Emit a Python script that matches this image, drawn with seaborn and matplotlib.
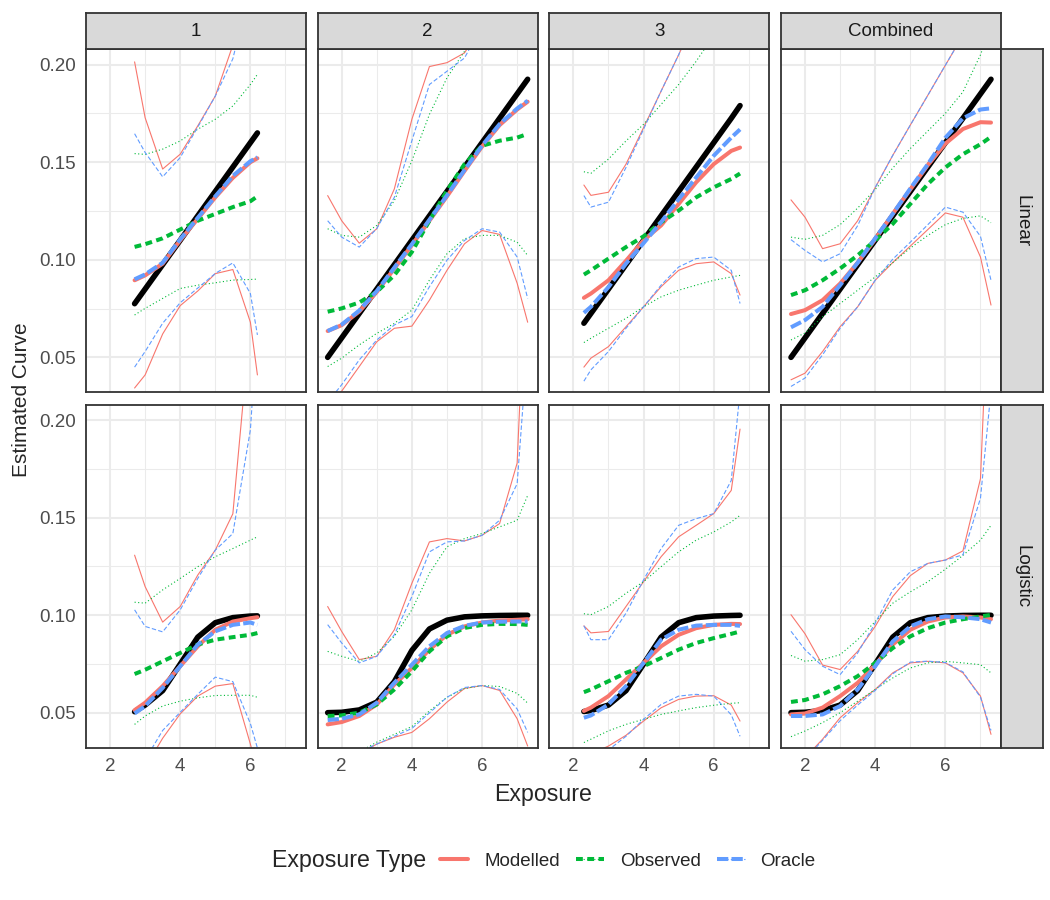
import pandas as pd
import seaborn as sns
import matplotlib.pyplot as plt
from matplotlib.lines import Line2D
from matplotlib.ticker import MultipleLocator, FormatStrFormatter

# --- DATA ---
TYPES = ["Modelled", "Observed", "Oracle"]
GROUPS = ["1", "2", "3", "Combined"]
MODELS = ["Linear", "Logistic"]

x_1 = [2.7, 3.0, 3.5, 4.0, 4.5, 5.0, 5.5, 6.0, 6.2]
x_2 = [1.6, 2.0, 2.5, 3.0, 3.5, 4.0, 4.5, 5.0, 5.5, 6.0, 6.5, 7.0, 7.3]
x_3 = [2.3, 2.5, 3.0, 3.5, 4.0, 4.5, 5.0, 5.5, 6.0, 6.5, 6.75]
x_c = [1.6, 2.0, 2.5, 3.0, 3.5, 4.0, 4.5, 5.0, 5.5, 6.0, 6.5, 7.0, 7.3]

# Linear, group 1
lin1_truth = [0.0775, 0.085, 0.0975, 0.11, 0.1225, 0.135, 0.1475, 0.16, 0.165]
lin1_mod = [0.0895, 0.092, 0.098, 0.110, 0.121, 0.132, 0.142, 0.150, 0.152]
lin1_obs = [0.1066, 0.108, 0.111, 0.1155, 0.120, 0.1235, 0.127, 0.130, 0.1325]
lin1_ora = [0.090, 0.0925, 0.0985, 0.1105, 0.1215, 0.1325, 0.143, 0.1505, 0.1525]
lin1_mod_lo = [0.0343, 0.041, 0.062, 0.0765, 0.084, 0.0929, 0.095, 0.068, 0.041]
lin1_obs_lo = [0.0717, 0.0751, 0.0802, 0.0853, 0.087, 0.0882, 0.0896, 0.0899, 0.0901]
lin1_ora_lo = [0.045, 0.053, 0.0675, 0.078, 0.0855, 0.093, 0.0984, 0.0827, 0.0615]
lin1_mod_hi = [0.2014, 0.1728, 0.1465, 0.1541, 0.1686, 0.1839, 0.210, 0.26, 0.28]
lin1_obs_hi = [0.1544, 0.154, 0.1567, 0.1609, 0.1669, 0.172, 0.1788, 0.1898, 0.195]
lin1_ora_hi = [0.1646, 0.155, 0.1425, 0.1524, 0.168, 0.1839, 0.203, 0.24, 0.25]

# Linear, group 2
lin2_truth = [0.05, 0.06, 0.0725, 0.085, 0.0975, 0.11, 0.1225, 0.135, 0.1475, 0.16, 0.1725, 0.185, 0.1925]
lin2_mod = [0.0635, 0.0665, 0.0735, 0.0835, 0.0955, 0.1075, 0.120, 0.1325, 0.1455, 0.158, 0.169, 0.177, 0.181]
lin2_obs = [0.0734, 0.0751, 0.0781, 0.0836, 0.0921, 0.104, 0.120, 0.1354, 0.149, 0.1584, 0.161, 0.1626, 0.1645]
lin2_ora = [0.0635, 0.0668, 0.074, 0.084, 0.096, 0.108, 0.1205, 0.133, 0.146, 0.1585, 0.1695, 0.1775, 0.1815]
lin2_mod_lo = [0.025, 0.0327, 0.0453, 0.058, 0.0649, 0.066, 0.0793, 0.0946, 0.1082, 0.115, 0.113, 0.088, 0.068]
lin2_obs_lo = [0.0453, 0.0496, 0.0564, 0.0623, 0.0674, 0.0742, 0.0896, 0.1031, 0.1108, 0.1125, 0.1125, 0.109, 0.1022]
lin2_ora_lo = [0.027, 0.036, 0.0487, 0.0589, 0.0666, 0.0709, 0.0862, 0.0998, 0.1099, 0.1159, 0.1142, 0.1014, 0.0802]
lin2_mod_hi = [0.1329, 0.120, 0.1085, 0.1159, 0.1363, 0.172, 0.199, 0.201, 0.206, 0.22, 0.24, 0.27, 0.30]
lin2_obs_hi = [0.1159, 0.1125, 0.1116, 0.1176, 0.1303, 0.1507, 0.1745, 0.1932, 0.2068, 0.225, 0.245, 0.27, 0.29]
lin2_ora_hi = [0.120, 0.1116, 0.1065, 0.116, 0.132, 0.161, 0.1898, 0.1966, 0.2034, 0.22, 0.24, 0.27, 0.29]

# Linear, group 3
lin3_truth = [0.0675, 0.0725, 0.085, 0.0975, 0.11, 0.1225, 0.135, 0.1475, 0.16, 0.1725, 0.179]
lin3_mod = [0.0805, 0.0827, 0.0895, 0.0995, 0.110, 0.1176, 0.1286, 0.1397, 0.149, 0.1558, 0.1575]
lin3_obs = [0.0924, 0.0946, 0.1006, 0.1065, 0.112, 0.1192, 0.1252, 0.132, 0.1371, 0.1414, 0.1442]
lin3_ora = [0.0728, 0.0759, 0.086, 0.098, 0.1085, 0.1193, 0.131, 0.1422, 0.1533, 0.1626, 0.1668]
lin3_mod_lo = [0.045, 0.0496, 0.0555, 0.0657, 0.0759, 0.0862, 0.0946, 0.098, 0.0989, 0.0929, 0.0819]
lin3_obs_lo = [0.0576, 0.0598, 0.0649, 0.070, 0.0759, 0.081, 0.0844, 0.087, 0.0895, 0.0912, 0.092]
lin3_ora_lo = [0.0378, 0.0436, 0.053, 0.0649, 0.0759, 0.087, 0.0963, 0.1006, 0.1014, 0.0946, 0.0776]
lin3_mod_hi = [0.1383, 0.133, 0.1346, 0.149, 0.1677, 0.1864, 0.205, 0.225, 0.245, 0.265, 0.275]
lin3_obs_hi = [0.1451, 0.1443, 0.1516, 0.1609, 0.1694, 0.1796, 0.1898, 0.2017, 0.215, 0.23, 0.24]
lin3_ora_hi = [0.1329, 0.127, 0.1295, 0.1473, 0.1669, 0.1864, 0.205, 0.225, 0.245, 0.265, 0.275]

# Linear, combined
linc_truth = [0.05, 0.06, 0.0725, 0.085, 0.0975, 0.11, 0.1225, 0.135, 0.1475, 0.16, 0.1725, 0.185, 0.1925]
linc_mod = [0.0722, 0.0742, 0.0793, 0.0878, 0.0985, 0.1105, 0.1235, 0.136, 0.1485, 0.1595, 0.167, 0.1705, 0.1703]
linc_obs = [0.0819, 0.0844, 0.0895, 0.0955, 0.1023, 0.1099, 0.1184, 0.1286, 0.1388, 0.1473, 0.1541, 0.1592, 0.163]
linc_ora = [0.0654, 0.0691, 0.0759, 0.087, 0.0985, 0.111, 0.1235, 0.1365, 0.149, 0.1625, 0.1725, 0.177, 0.1776]
linc_mod_lo = [0.0385, 0.0419, 0.053, 0.0657, 0.0759, 0.0895, 0.0986, 0.107, 0.1155, 0.124, 0.1218, 0.1014, 0.0768]
linc_obs_lo = [0.0589, 0.0625, 0.0708, 0.0776, 0.0844, 0.0912, 0.0985, 0.106, 0.1125, 0.118, 0.1212, 0.1225, 0.119]
linc_ora_lo = [0.0351, 0.0394, 0.0513, 0.0649, 0.0759, 0.0895, 0.1003, 0.109, 0.118, 0.127, 0.1244, 0.112, 0.0895]
linc_mod_hi = [0.1307, 0.1218, 0.1057, 0.1082, 0.120, 0.137, 0.1535, 0.169, 0.1843, 0.1997, 0.215, 0.23, 0.245]
linc_obs_hi = [0.1116, 0.1105, 0.1125, 0.118, 0.1265, 0.136, 0.147, 0.157, 0.166, 0.175, 0.186, 0.205, 0.22]
linc_ora_hi = [0.1103, 0.1048, 0.0989, 0.1031, 0.1175, 0.137, 0.1535, 0.169, 0.1843, 0.1997, 0.215, 0.23, 0.245]

# Logistic, group 1
log1_truth = [0.0506, 0.054, 0.0614, 0.075, 0.0888, 0.0962, 0.0988, 0.0996, 0.0997]
log1_mod = [0.0514, 0.0552, 0.0637, 0.0739, 0.0841, 0.0926, 0.0968, 0.0985, 0.099]
log1_obs = [0.0699, 0.0721, 0.0764, 0.0807, 0.085, 0.0875, 0.0888, 0.090, 0.0909]
log1_ora = [0.0497, 0.0535, 0.0628, 0.0739, 0.085, 0.0918, 0.0951, 0.0963, 0.0951]
log1_mod_lo = [0.015, 0.022, 0.037, 0.0495, 0.0586, 0.0637, 0.065, 0.034, 0.02]
log1_obs_lo = [0.0441, 0.0484, 0.0535, 0.056, 0.0577, 0.0589, 0.059, 0.059, 0.058]
log1_ora_lo = [0.017, 0.026, 0.041, 0.0503, 0.0595, 0.0683, 0.066, 0.0445, 0.032]
log1_mod_hi = [0.1308, 0.1147, 0.0965, 0.1045, 0.1206, 0.1334, 0.152, 0.25, 0.30]
log1_obs_hi = [0.1067, 0.1062, 0.113, 0.1189, 0.1249, 0.130, 0.1342, 0.1385, 0.1402]
log1_ora_hi = [0.1028, 0.0943, 0.0915, 0.1028, 0.1189, 0.1334, 0.1419, 0.195, 0.25]

# Logistic, group 2
log2_truth = [0.0501, 0.0503, 0.0515, 0.0555, 0.066, 0.082, 0.093, 0.0975, 0.0992, 0.0997, 0.0999, 0.1, 0.1]
log2_mod = [0.0441, 0.0453, 0.0484, 0.0543, 0.0645, 0.073, 0.0824, 0.090, 0.0943, 0.0963, 0.0973, 0.0977, 0.098]
log2_obs = [0.0484, 0.0487, 0.0501, 0.0543, 0.062, 0.0713, 0.0815, 0.0892, 0.0935, 0.0951, 0.0956, 0.0955, 0.0951]
log2_ora = [0.0463, 0.047, 0.0492, 0.0552, 0.0654, 0.0747, 0.0841, 0.0909, 0.0946, 0.0963, 0.0967, 0.0968, 0.0968]
log2_mod_lo = [0.022, 0.025, 0.029, 0.034, 0.0375, 0.040, 0.047, 0.0555, 0.0625, 0.064, 0.0615, 0.047, 0.033]
log2_obs_lo = [0.024, 0.026, 0.030, 0.035, 0.039, 0.043, 0.051, 0.058, 0.0625, 0.064, 0.0635, 0.060, 0.055]
log2_ora_lo = [0.022, 0.026, 0.030, 0.034, 0.038, 0.042, 0.050, 0.058, 0.063, 0.064, 0.062, 0.052, 0.040]
log2_mod_hi = [0.1045, 0.0917, 0.0773, 0.079, 0.0926, 0.1164, 0.1376, 0.1393, 0.1381, 0.141, 0.147, 0.178, 0.30]
log2_obs_hi = [0.0815, 0.079, 0.0764, 0.0807, 0.0892, 0.1028, 0.1215, 0.1351, 0.1393, 0.1419, 0.1453, 0.1487, 0.1614]
log2_ora_hi = [0.0952, 0.0858, 0.0756, 0.079, 0.090, 0.1096, 0.1325, 0.1376, 0.1381, 0.141, 0.1487, 0.1674, 0.24]

# Logistic, group 3
log3_truth = [0.0507, 0.0512, 0.054, 0.0614, 0.075, 0.0888, 0.0962, 0.0988, 0.0996, 0.0999, 0.1]
log3_mod = [0.051, 0.0527, 0.0586, 0.0671, 0.0756, 0.0841, 0.090, 0.0934, 0.0951, 0.0956, 0.0955]
log3_obs = [0.0606, 0.062, 0.0662, 0.0705, 0.0739, 0.0781, 0.0824, 0.0858, 0.0883, 0.0905, 0.0917]
log3_ora = [0.0475, 0.0487, 0.0543, 0.0637, 0.0756, 0.0875, 0.0926, 0.0947, 0.0951, 0.0951, 0.0946]
log3_mod_lo = [0.027, 0.029, 0.033, 0.0385, 0.0458, 0.0526, 0.0569, 0.0586, 0.0588, 0.054, 0.0458]
log3_obs_lo = [0.0348, 0.0365, 0.0408, 0.0441, 0.0467, 0.0492, 0.051, 0.0527, 0.0539, 0.0549, 0.0552]
log3_ora_lo = [0.024, 0.026, 0.031, 0.038, 0.0467, 0.0543, 0.0586, 0.0595, 0.0586, 0.049, 0.038]
log3_mod_hi = [0.0946, 0.091, 0.0917, 0.1045, 0.1172, 0.130, 0.1402, 0.1461, 0.1521, 0.164, 0.1954]
log3_obs_hi = [0.1008, 0.1003, 0.1045, 0.1113, 0.1172, 0.1249, 0.1325, 0.1385, 0.1427, 0.1478, 0.1512]
log3_ora_hi = [0.0946, 0.0875, 0.0875, 0.1011, 0.1181, 0.1342, 0.1461, 0.1495, 0.1521, 0.1691, 0.215]

# Logistic, combined
logc_truth = [0.0501, 0.0503, 0.0512, 0.054, 0.0614, 0.075, 0.0888, 0.0962, 0.0988, 0.0996, 0.0999, 0.1, 0.1]
logc_mod = [0.0492, 0.0497, 0.0527, 0.0586, 0.0654, 0.0747, 0.085, 0.0926, 0.0968, 0.0989, 0.0994, 0.0989, 0.098]
logc_obs = [0.0556, 0.0566, 0.0595, 0.0637, 0.0688, 0.0756, 0.0832, 0.0892, 0.0934, 0.0963, 0.098, 0.0994, 0.1002]
logc_ora = [0.0484, 0.0484, 0.0492, 0.0535, 0.062, 0.0739, 0.0866, 0.0943, 0.098, 0.0994, 0.099, 0.098, 0.0963]
logc_mod_lo = [0.022, 0.027, 0.0365, 0.0475, 0.0552, 0.062, 0.0705, 0.0756, 0.0764, 0.0756, 0.0705, 0.0586, 0.039]
logc_obs_lo = [0.0378, 0.0407, 0.045, 0.0501, 0.056, 0.062, 0.0679, 0.073, 0.0756, 0.0764, 0.0756, 0.0747, 0.0705]
logc_ora_lo = [0.021, 0.026, 0.036, 0.046, 0.054, 0.0615, 0.070, 0.076, 0.0765, 0.0758, 0.071, 0.058, 0.041]
logc_mod_hi = [0.1003, 0.0905, 0.0745, 0.0722, 0.0815, 0.0943, 0.1096, 0.1203, 0.1266, 0.1283, 0.133, 0.17, 0.30]
logc_obs_hi = [0.0794, 0.0765, 0.0773, 0.0798, 0.0875, 0.0968, 0.1062, 0.112, 0.1172, 0.1236, 0.1307, 0.1385, 0.1461]
logc_ora_hi = [0.0918, 0.0824, 0.0739, 0.0696, 0.0807, 0.096, 0.113, 0.1223, 0.1266, 0.1283, 0.131, 0.160, 0.215]

PANELS = [
    ("Linear", "1", x_1, lin1_truth, (lin1_mod, lin1_obs, lin1_ora),
     (lin1_mod_lo, lin1_obs_lo, lin1_ora_lo), (lin1_mod_hi, lin1_obs_hi, lin1_ora_hi)),
    ("Linear", "2", x_2, lin2_truth, (lin2_mod, lin2_obs, lin2_ora),
     (lin2_mod_lo, lin2_obs_lo, lin2_ora_lo), (lin2_mod_hi, lin2_obs_hi, lin2_ora_hi)),
    ("Linear", "3", x_3, lin3_truth, (lin3_mod, lin3_obs, lin3_ora),
     (lin3_mod_lo, lin3_obs_lo, lin3_ora_lo), (lin3_mod_hi, lin3_obs_hi, lin3_ora_hi)),
    ("Linear", "Combined", x_c, linc_truth, (linc_mod, linc_obs, linc_ora),
     (linc_mod_lo, linc_obs_lo, linc_ora_lo), (linc_mod_hi, linc_obs_hi, linc_ora_hi)),
    ("Logistic", "1", x_1, log1_truth, (log1_mod, log1_obs, log1_ora),
     (log1_mod_lo, log1_obs_lo, log1_ora_lo), (log1_mod_hi, log1_obs_hi, log1_ora_hi)),
    ("Logistic", "2", x_2, log2_truth, (log2_mod, log2_obs, log2_ora),
     (log2_mod_lo, log2_obs_lo, log2_ora_lo), (log2_mod_hi, log2_obs_hi, log2_ora_hi)),
    ("Logistic", "3", x_3, log3_truth, (log3_mod, log3_obs, log3_ora),
     (log3_mod_lo, log3_obs_lo, log3_ora_lo), (log3_mod_hi, log3_obs_hi, log3_ora_hi)),
    ("Logistic", "Combined", x_c, logc_truth, (logc_mod, logc_obs, logc_ora),
     (logc_mod_lo, logc_obs_lo, logc_ora_lo), (logc_mod_hi, logc_obs_hi, logc_ora_hi)),
]

# --- STYLE ---
COLOURS = {"Modelled": "#F8766D", "Observed": "#00BA38", "Oracle": "#619CFF"}
DASH_EST = {"Modelled": "", "Observed": (1.7, 1.1), "Oracle": (2.8, 0.8)}
DASH_CI = {"Modelled": "", "Observed": (1, 2.2), "Oracle": (4, 2)}
LW_EST, LW_CI, LW_TRUTH = 2.9, 0.8, 4.0
BORDER = "#333333"
GRID = "#EBEBEB"
FS_SMALL, FS_TITLE = 13.5, 16.7


def build_frames():
    truth_rows, curve_rows = [], []
    for model, group, x, truth, est, lo, hi in PANELS:
        for xi, yi in zip(x, truth):
            truth_rows.append((model, group, xi, yi))
        for part, series in (("est", est), ("lo", lo), ("hi", hi)):
            for t, ys in zip(TYPES, series):
                for xi, yi in zip(x, ys):
                    curve_rows.append((model, group, t, part, xi, yi))
    truth_df = pd.DataFrame(truth_rows, columns=["model", "group", "x", "y"])
    curve_df = pd.DataFrame(curve_rows, columns=["model", "group", "type", "part", "x", "y"])
    return truth_df, curve_df


def add_strip(fig, rect, label, rotation=0):
    sax = fig.add_axes(rect)
    sax.set_facecolor("#D9D9D9")
    sax.set_xticks([])
    sax.set_yticks([])
    for sp in sax.spines.values():
        sp.set_color(BORDER)
        sp.set_linewidth(1.3)
    sax.text(0.5, 0.5, label, ha="center", va="center", rotation=rotation,
             fontsize=FS_SMALL, color="#1A1A1A")


def main():
    truth_df, curve_df = build_frames()

    sns.set_theme(style="white")
    plt.rcParams["font.family"] = ["Liberation Sans", "DejaVu Sans"]

    fig, axes = plt.subplots(2, 4, figsize=(10.5, 9), dpi=100, sharex=True, sharey=True)
    fig.subplots_adjust(left=86 / 1050, right=1001 / 1050, top=1 - 49 / 900,
                        bottom=1 - 748 / 900, wspace=0.053, hspace=0.035)

    for r, model in enumerate(MODELS):
        for c, group in enumerate(GROUPS):
            ax = axes[r, c]
            tsub = truth_df[(truth_df.model == model) & (truth_df.group == group)]
            csub = curve_df[(curve_df.model == model) & (curve_df.group == group)]

            sns.lineplot(data=tsub, x="x", y="y", color="black", linewidth=LW_TRUTH,
                         estimator=None, sort=False, ax=ax)
            sns.lineplot(data=csub[csub.part != "est"], x="x", y="y", hue="type",
                         style="type", units="part", estimator=None, sort=False,
                         hue_order=TYPES, style_order=TYPES, palette=COLOURS,
                         dashes=DASH_CI, linewidth=LW_CI, legend=False, ax=ax)
            sns.lineplot(data=csub[csub.part == "est"], x="x", y="y", hue="type",
                         style="type", estimator=None, sort=False,
                         hue_order=TYPES, style_order=TYPES, palette=COLOURS,
                         dashes=DASH_EST, linewidth=LW_EST, legend=False, ax=ax)

            ax.set_xlabel("")
            ax.set_ylabel("")
            ax.set_xlim(1.315, 7.585)
            ax.set_ylim(0.032, 0.208)
            ax.xaxis.set_major_locator(MultipleLocator(2))
            ax.xaxis.set_minor_locator(MultipleLocator(1))
            ax.yaxis.set_major_locator(MultipleLocator(0.05))
            ax.yaxis.set_minor_locator(MultipleLocator(0.025))
            ax.yaxis.set_major_formatter(FormatStrFormatter("%.2f"))
            ax.set_facecolor("white")
            ax.grid(which="major", color=GRID, linewidth=1.5)
            ax.grid(which="minor", color=GRID, linewidth=0.75)
            ax.set_axisbelow(True)
            for sp in ax.spines.values():
                sp.set_color(BORDER)
                sp.set_linewidth(1.3)

            ax.tick_params(which="major", direction="out", length=4, width=1,
                           color=BORDER, labelcolor="#4D4D4D", labelsize=FS_SMALL, pad=3)
            ax.tick_params(which="minor", length=0)
            if c > 0:
                ax.tick_params(axis="y", which="both", length=0, labelleft=False)
            if r == 0:
                ax.tick_params(axis="x", which="both", length=0, labelbottom=False)

    # facet strips on top and right
    for c, group in enumerate(GROUPS):
        pos = axes[0, c].get_position()
        add_strip(fig, [pos.x0, pos.y1, pos.width, 36 / 900], group)
    for r, model in enumerate(MODELS):
        pos = axes[r, 3].get_position()
        add_strip(fig, [pos.x1, pos.y0, 42 / 1050, pos.height], model, rotation=-90)

    # axis titles
    fig.text(543 / 1050, 1 - 795 / 900, "Exposure", ha="center", va="center", fontsize=FS_TITLE)
    fig.text(22 / 1050, 1 - 400 / 900, "Estimated Curve", ha="center", va="center",
             rotation=90, fontsize=15)

    # legend at the bottom, title on the left
    fig.text(272 / 1050, 1 - 861 / 900, "Exposure Type", ha="left", va="center", fontsize=FS_TITLE)
    handles = []
    for t in TYPES:
        thick = Line2D([], [], color=COLOURS[t], linewidth=LW_EST,
                       linestyle="-" if DASH_EST[t] == "" else (0, DASH_EST[t]))
        thin = Line2D([], [], color=COLOURS[t], linewidth=LW_CI,
                      linestyle="-" if DASH_CI[t] == "" else (0, DASH_CI[t]))
        handles.append((thick, thin))
    fig.legend(handles, TYPES, loc="center left", bbox_to_anchor=(440 / 1050, 1 - 861 / 900),
               ncol=3, frameon=False, fontsize=FS_SMALL, handlelength=1.5,
               handletextpad=0.85, columnspacing=0.85, borderpad=0, borderaxespad=0)

    fig.savefig("out.png", dpi=100, facecolor="white")
    plt.close(fig)


if __name__ == "__main__":
    main()
